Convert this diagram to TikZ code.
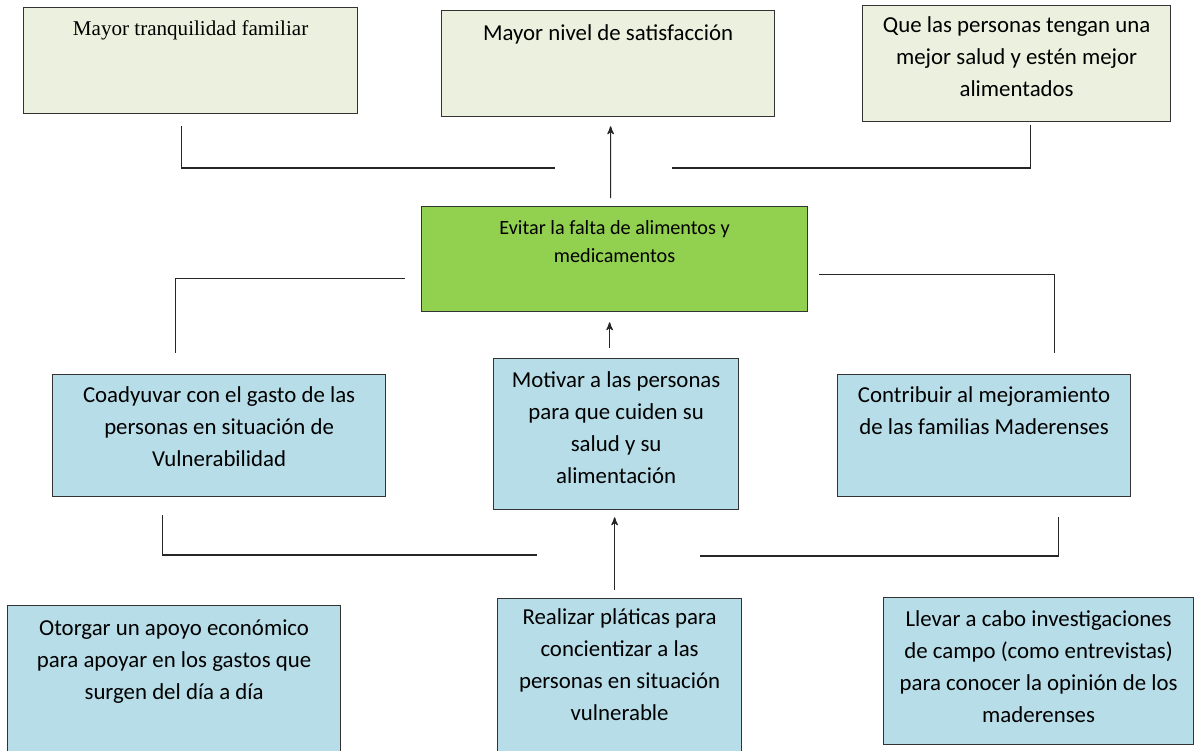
\documentclass[tikz,border=0pt]{standalone}
\usepackage{fontspec}
\setmainfont{Carlito}
\newfontfamily\timesfont{Liberation Serif}
\usetikzlibrary{arrows}
\usetikzlibrary{calc}
\definecolor{finfill}{HTML}{EBF1DE}
\definecolor{mediofill}{HTML}{B7DDE8}
\definecolor{probfill}{HTML}{92D050}
\newlength\px
\setlength\px{0.02cm}
% box text: width, height, first baseline (all in px), text
\newcommand{\boxtext}[4]{\parbox[t][#2\px][t]{#1\px}{\centering\rule{0pt}{#3\px}#4}}

\begin{document}
\begin{tikzpicture}[x=0.02cm, y=-0.02cm, line width=0.7pt, >=stealth',
  every node/.style={font=\fontsize{13}{18.2}\selectfont},
  box/.style={draw=black!80, inner sep=0pt, anchor=north west},
  fin/.style={box, fill=finfill},
  medio/.style={box, fill=mediofill},
  prob/.style={box, fill=probfill},
  conn/.style={draw=black!85}]
\clip (0,0) rectangle (1201,751);
% fines
\node[fin] (tl) at (23,7) {\boxtext{334}{106}{28}{\timesfont\fontsize{12}{16}\selectfont Mayor tranquilidad familiar}};
\node[fin] (tm) at (441,10) {\boxtext{333}{106}{30}{Mayor nivel de satisfacción}};
\node[fin] (tr) at (862,5) {\boxtext{308}{116}{27}{Que las personas tengan una\\ mejor salud y estén mejor\\ alimentados}};
% problema central
\node[prob] (green) at (421,206) {\boxtext{386}{105}{28}{\fontsize{11.5}{15.9}\selectfont Evitar la falta de alimentos y\\ medicamentos}};
% objetivos
\node[medio] (ml) at (52,374) {\boxtext{333}{122}{28}{Coadyuvar con el gasto de las\\ personas en situación de\\ Vulnerabilidad}};
\node[medio] (mm) at (493,358) {\boxtext{245}{151}{29}{Motivar a las personas\\ para que cuiden su\\ salud y su\\ alimentación}};
\node[medio] (mr) at (837,374) {\boxtext{293}{122}{28}{Contribuir al mejoramiento\\ de las familias Maderenses}};
% acciones
\node[medio] (bl) at (7,605) {\boxtext{333}{160}{30}{Otorgar un apoyo económico\\ para apoyar en los gastos que\\ surgen del día a día}};
\node[medio] (bm) at (497,598) {\boxtext{244}{160}{26}{Realizar pláticas para\\ concientizar a las\\ personas en situación\\ vulnerable}};
\node[medio] (br) at (883,597) {\boxtext{310}{147}{29}{Llevar a cabo investigaciones\\ de campo (como entrevistas)\\ para conocer la opinión de los\\ maderenses}};
% top connectors
\coordinate (topL) at (555,168);
\coordinate (topR) at (672,168);
\draw[conn] ($(tl.south)+(-9,12)$) |- (topL);
\draw[conn] (topR) -| ($(tr.south)+(14,3)$);
\draw[conn,->] ($(green.north)+(-4,-8)$) -- ($(tm.south)+(2.5,9)$);
% middle connectors
\draw[conn] ($(green.west)+(-16,19.5)$) -| ($(ml.north)+(-43.5,-21)$);
\draw[conn] ($(green.east)+(11,15.5)$) -| ($(mr.north)+(70.5,-21)$);
\draw[conn,->] ($(mm.north)+(-6.5,-10)$) -- ($(green.south)+(-5,10)$);
% bottom connectors
\coordinate (botL) at (537,555);
\coordinate (botR) at (700,556);
\draw[conn] ($(ml.south)+(-56.5,18)$) |- (botL);
\draw[conn] (botR) -| ($(mr.south)+(74.5,20)$);
\draw[conn,->] ($(bm.north)+(-5,-8)$) -- ($(mm.south)+(-1.5,7)$);
\end{tikzpicture}
\end{document}
